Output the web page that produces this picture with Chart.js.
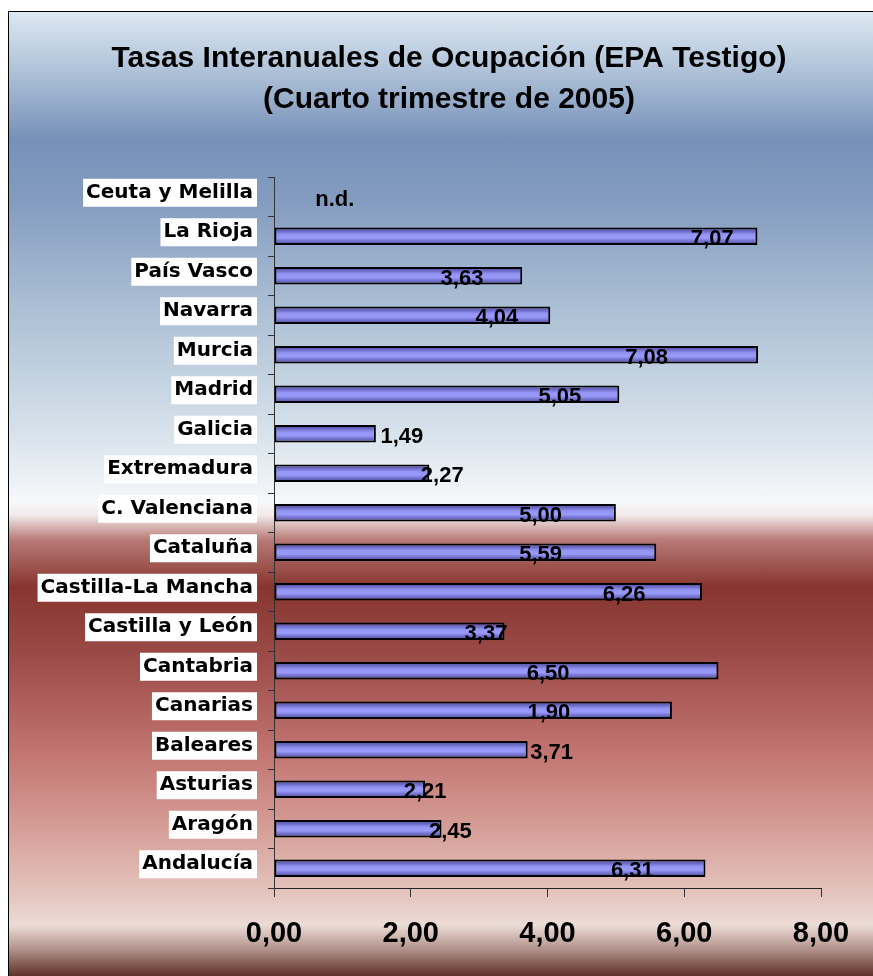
<!DOCTYPE html>
<html>
<head>
<meta charset="utf-8">
<script src="https://cdn.jsdelivr.net/npm/chart.js@4.4.0/dist/chart.umd.min.js"></script>
<style>
  html, body { margin: 0; padding: 0; background: #fff; overflow: hidden; width: 873px; height: 976px; }
  #marco {
    position: absolute; left: 8px; top: 11px; width: 900px; height: 980px;
    border-left: 1px solid #000; border-top: 1px solid #000;
    background: linear-gradient(to bottom,
      #dce8f2 0px, #b6c8dc 50px, #7690b8 128px, #849cc0 190px, #a9bdd3 290px,
      #d3dfe9 410px, #f6f8fa 490px, #f2eaea 503px, #b87a76 528px, #88352f 575px,
      #9a4a46 640px, #c27470 740px, #d49a94 810px, #e6c8c2 888px, #ecdcd6 913px,
      #b09088 938px, #5e3028 964px);
  }
  #grafico { position: absolute; left: 0; top: 0; }
</style>
</head>
<body>
<div id="marco"><canvas id="grafico" width="880" height="964"></canvas></div>
<script>
// comunidades, de arriba abajo
const regiones = ['Ceuta y Melilla', 'La Rioja', 'País Vasco', 'Navarra', 'Murcia', 'Madrid',
  'Galicia', 'Extremadura', 'C. Valenciana', 'Cataluña', 'Castilla-La Mancha', 'Castilla y León',
  'Cantabria', 'Canarias', 'Baleares', 'Asturias', 'Aragón', 'Andalucía'];

// longitud de las barras (Canarias dibujada en 5,8 aunque su rótulo dice 1,90)
const tasas = [null, 7.07, 3.63, 4.04, 7.08, 5.05, 1.49, 2.27, 5.00, 5.59, 6.26, 3.37,
  6.50, 5.82, 3.71, 2.21, 2.45, 6.31];

// rótulos de datos tal como aparecen
const rotulos = ['n.d.', '7,07', '3,63', '4,04', '7,08', '5,05', '1,49', '2,27', '5,00', '5,59',
  '6,26', '3,37', '6,50', '1,90', '3,71', '2,21', '2,45', '6,31'];

// dónde cae el centro de cada rótulo, en unidades del eje
const rotuloEn = [0.89, 6.41, 2.75, 3.26, 5.45, 4.18, 1.87, 2.46, 3.90, 3.90, 5.12, 3.10,
  4.01, 4.02, 4.06, 2.21, 2.58, 5.24];

const titulo = ['Tasas Interanuales de Ocupación (EPA Testigo)', '(Cuarto trimestre de 2005)'];

const ejeMin = 0, ejeMax = 8, paso = 2;

const fmt = v => v.toFixed(2).replace('.', ',');

function rellenoBarra(c) {
  const chart = c.chart;
  const y = chart.scales && chart.scales.y;
  if (!y || c.dataIndex === undefined) return '#8c8cec';
  const mid = y.getPixelForValue(c.dataIndex);
  if (!isFinite(mid)) return '#8c8cec';
  const g = chart.ctx.createLinearGradient(0, mid - 8.5, 0, mid + 8.5);
  g.addColorStop(0, '#4a4a9a');
  g.addColorStop(0.2, '#6a6ac4');
  g.addColorStop(0.4, '#9494f4');
  g.addColorStop(0.6, '#9a9afa');
  g.addColorStop(0.8, '#7070ca');
  g.addColorStop(1, '#4a4a9a');
  return g;
}

// título a mano: el de Chart.js se centra sin contar el margen derecho
const tituloPlugin = {
  id: 'tituloCentrado',
  afterDraw(chart) {
    const ctx = chart.ctx;
    ctx.save();
    ctx.font = 'bold 30px "Liberation Sans", Arial, sans-serif';
    ctx.fillStyle = '#000';
    ctx.textAlign = 'center';
    ctx.textBaseline = 'middle';
    titulo.forEach((t, i) => ctx.fillText(t, 440, 47 + i * 41));
    ctx.restore();
  }
};

const rotulosPlugin = {
  id: 'rotulosValor',
  afterDatasetsDraw(chart) {
    const { ctx, scales: { x, y } } = chart;
    ctx.save();
    ctx.font = 'bold 22px "Liberation Sans", Arial, sans-serif';
    ctx.fillStyle = '#000';
    ctx.textAlign = 'center';
    ctx.textBaseline = 'middle';
    rotulos.forEach((t, i) => {
      ctx.fillText(t, x.getPixelForValue(rotuloEn[i]), y.getPixelForValue(i) + 3);
    });
    ctx.restore();
  }
};

new Chart(document.getElementById('grafico'), {
  type: 'bar',
  data: {
    labels: regiones,
    datasets: [{
      data: tasas,
      backgroundColor: rellenoBarra,
      borderColor: '#000',
      borderWidth: 2,
      borderSkipped: false,
      barPercentage: 0.44,
      categoryPercentage: 1
    }]
  },
  options: {
    indexAxis: 'y',
    responsive: false,
    animation: false,
    layout: { padding: { top: 165, right: 68 } },
    plugins: {
      legend: { display: false },
      tooltip: { enabled: false },
      title: { display: false }
    },
    scales: {
      x: {
        min: ejeMin,
        max: ejeMax,
        afterFit: s => { s.height = 88; },
        grid: { drawOnChartArea: false, tickLength: 9, color: '#333' },
        border: { color: '#222', width: 1 },
        ticks: {
          stepSize: paso,
          padding: 20,
          color: '#000',
          font: { family: '"Liberation Sans", Arial, sans-serif', size: 29, weight: 'bold' },
          callback: v => fmt(v)
        }
      },
      y: {
        afterFit: s => { s.width = 265; },
        grid: { drawOnChartArea: false, tickLength: 6, color: '#333' },
        border: { color: '#333', width: 1 },
        ticks: {
          padding: 15,
          labelOffset: -4,
          color: '#000',
          font: { family: '"DejaVu Sans", sans-serif', size: 20, weight: 'bold' },
          showLabelBackdrop: true,
          backdropColor: '#fff',
          backdropPadding: { top: 2, bottom: 2, left: 3, right: 4 }
        }
      }
    }
  },
  plugins: [rotulosPlugin, tituloPlugin]
});
</script>
</body>
</html>
